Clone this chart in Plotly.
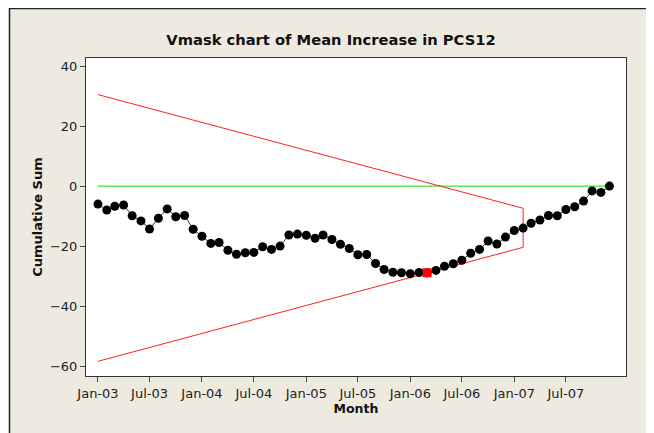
import plotly.graph_objects as go
import pandas as pd

months = pd.date_range("2003-01-01", periods=60, freq="MS").strftime("%Y-%m-%d").tolist()

cusum = [-6.0, -8.0, -6.7, -6.3, -9.9, -11.6, -14.3, -10.7, -7.6, -10.2,
         -9.8, -14.4, -16.7, -19.1, -18.8, -21.4, -22.7, -22.2, -22.1, -20.2,
         -21.1, -20.0, -16.3, -16.0, -16.4, -17.4, -16.3, -17.8, -19.4, -20.8,
         -22.9, -22.8, -25.8, -27.8, -28.7, -28.9, -29.2, -28.8, -28.9, -28.1,
         -26.7, -25.9, -24.7, -22.4, -21.1, -18.3, -19.3, -17.0, -14.8, -14.0,
         -12.4, -11.3, -9.8, -9.9, -7.8, -6.9, -5.0, -1.6, -2.1, 0.0]

flagged_index = 38  # point marked in red

# V-mask outline: upper arm, vertical edge, lower arm
vmask_x = ["2003-01-01", "2007-02-01", "2007-02-01", "2003-01-01"]
vmask_y = [30.5, -7.4, -20.4, -58.4]

target_x = ["2003-01-01", "2007-12-01"]
target_y = [0, 0]

y_ticks = [-60, -40, -20, 0, 20, 40]
x_ticks = ["2003-01-01", "2003-07-01", "2004-01-01", "2004-07-01", "2005-01-01",
           "2005-07-01", "2006-01-01", "2006-07-01", "2007-01-01", "2007-07-01"]
x_tick_labels = ["Jan-03", "Jul-03", "Jan-04", "Jul-04", "Jan-05",
                 "Jul-05", "Jan-06", "Jul-06", "Jan-07", "Jul-07"]

FONT = "DejaVu Sans"
BEIGE = "#EEEAE0"

fig = go.Figure()
fig.add_trace(go.Scatter(x=target_x, y=target_y, mode="lines",
                         line=dict(color="#00E000", width=1), hoverinfo="skip"))
fig.add_trace(go.Scatter(x=vmask_x, y=vmask_y, mode="lines",
                         line=dict(color="#FF2020", width=1), hoverinfo="skip"))
fig.add_trace(go.Scatter(x=months, y=cusum, mode="lines+markers",
                         line=dict(color="#333333", width=1),
                         marker=dict(color="black", size=9, symbol="circle")))
fig.add_trace(go.Scatter(x=[months[flagged_index]], y=[cusum[flagged_index]],
                         mode="markers",
                         marker=dict(color="#FF0000", size=9, symbol="square")))

# page body has an 8px margin, so the figure is laid out 8px in from the top-left
OFF = 8
W, H = 654 - OFF, 433 - OFF
L, R, T, B = 86 - OFF, 28, 58 - OFF, 57
pw, ph = W - L - R, H - T - B

def px(x):
    return (x - OFF - L) / pw

def py(y):
    return (H - B - (y - OFF)) / ph

fig.update_layout(
    width=W, height=H,
    margin=dict(l=L, r=R, t=T, b=B),
    paper_bgcolor="white",
    plot_bgcolor="white",
    showlegend=False,
    font=dict(family=FONT, size=13, color="#222222"),
    title=dict(text="<b>Vmask chart of Mean Increase in PCS12</b>",
               x=(331 - OFF) / W, xref="container", xanchor="center",
               y=1 - (40 - OFF) / H, yref="container", yanchor="middle",
               font=dict(family=FONT, size=14.7, color="#111111")),
    shapes=[
        dict(type="rect", xref="paper", yref="paper", layer="below",
             x0=px(9.5), x1=px(652.5), y0=py(445), y1=py(8.6),
             fillcolor=BEIGE, line=dict(color="#222222", width=1.5)),
        dict(type="rect", xref="paper", yref="paper", layer="below",
             x0=0, x1=1, y0=0, y1=1, fillcolor="white", line=dict(width=0)),
    ],
)
fig.update_xaxes(
    type="date", range=["2002-11-20", "2008-01-28"],
    tickvals=x_ticks, ticktext=x_tick_labels,
    ticks="outside", ticklen=5, tickcolor="#444444",
    showgrid=False, zeroline=False,
    showline=True, linecolor="#333333", linewidth=1, mirror=True,
    title=dict(text="<b>Month</b>", font=dict(family=FONT, size=12.5, color="#111111"),
               standoff=2),
)
fig.update_yaxes(
    range=[-63.3, 42.7], tickvals=y_ticks,
    ticks="outside", ticklen=5, tickcolor="#444444",
    showgrid=False, zeroline=False,
    showline=True, linecolor="#333333", linewidth=1, mirror=True,
    title=dict(text="<b>Cumulative Sum</b>", font=dict(family=FONT, size=13, color="#111111"),
               standoff=4),
)

fig.write_html("out.html")
